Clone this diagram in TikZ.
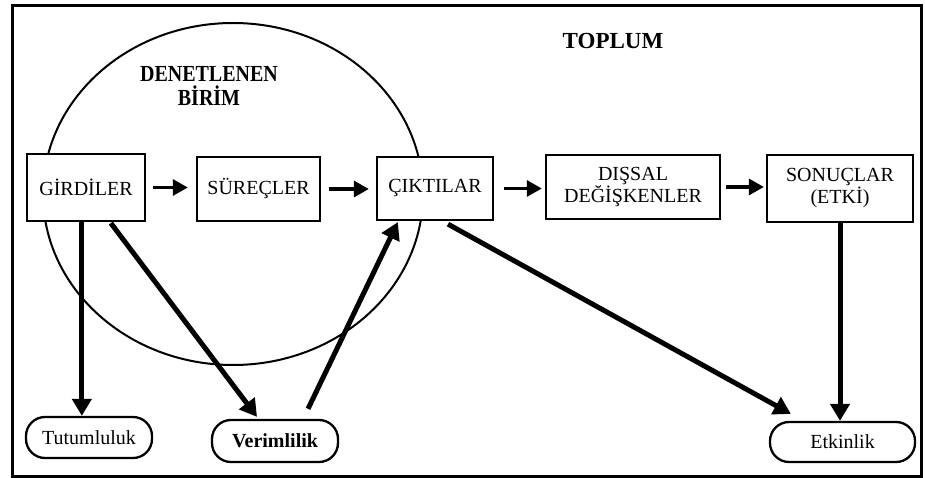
\documentclass[tikz,border=0pt]{standalone}
\usepackage{fontspec}
\setmainfont{Liberation Serif}
\usetikzlibrary{arrows.meta,calc}
\begin{document}
\begin{tikzpicture}[x=1pt,y=-1pt]
\tikzset{
 box/.style={draw, line width=2.3pt, fill=white, inner sep=0pt, align=center, font=\fontsize{20}{22}\selectfont},
 pill/.style={draw, line width=2.3pt, rounded corners=19pt, fill=white, inner sep=0pt, font=\fontsize{20}{22}\selectfont},
 flow/.style={line width=3.2pt, -{Triangle[length=15pt,width=16pt]}},
 big/.style={line width=5pt, -{Triangle[length=17pt,width=19pt]}},
 title/.style={font=\bfseries\fontsize{23}{25}\selectfont},
 unitlabel/.style={font=\bfseries\fontsize{20}{23}\selectfont, align=center, inner sep=0pt},
}
\useasboundingbox (0,0) rectangle (925,478);
% frame
\draw[line width=3pt] (12,6) rectangle (921,476);
% audited unit
\draw[line width=2pt] (233,194) ellipse [x radius=190pt, y radius=171pt];
\node[title] (toplum) at (613,41) {TOPLUM};
\node[unitlabel] (birim) at (209,86) {\scalebox{1}[1.15]{DENETLENEN}\\[1pt]\scalebox{1}[1.15]{BİRİM}};
% boxes
\node[box, minimum width=118pt, minimum height=67pt] (gir) at (86,187.5) {GİRDİLER};
\node[box, minimum width=123pt, minimum height=64pt] (sur) at (258.5,189) {SÜREÇLER};
\node[box, minimum width=116pt, minimum height=63pt] (cik) at (435,188.5) {ÇIKTILAR};
\node[box, minimum width=174pt, minimum height=64pt] (dis) at (633,187) {DIŞSAL\\DEĞİŞKENLER};
\node[box, minimum width=146pt, minimum height=67pt] (son) at (840,188.5) {SONUÇLAR\\(ETKİ)};
% results
\node[pill, minimum width=126pt, minimum height=41pt] (tut) at (89,437.5) {Tutumluluk};
\node[pill, minimum width=126pt, minimum height=42pt, font=\bfseries\fontsize{20}{22}\selectfont] (ver) at (275,441) {Verimlilik};
\node[pill, minimum width=145pt, minimum height=40pt] (etk) at (842.5,442) {Etkinlik};
% horizontal flow
\draw[flow, shorten <=7pt, shorten >=8pt] (gir.east) -- (gir.east -| sur.west);
\draw[flow, shorten <=8pt, shorten >=7pt] (sur.east) -- (sur.east -| cik.west);
\draw[flow, shorten <=10pt, shorten >=3pt] (cik.east) -- (cik.east -| dis.west);
\draw[flow, shorten <=5pt, shorten >=2pt] (dis.east) -- (dis.east -| son.west);
% measures
\coordinate (g1) at ($(gir.south west)+(56,0)$);
\draw[big] (g1) -- (g1 |- tut.north);
\coordinate (g2) at ($(gir.south west)+(85,1)$);
\coordinate (v1) at ($(ver.north)+(-18,-2)$);
\draw[big] (g2) -- (v1);
\coordinate (v2) at ($(ver.north)+(33,-10)$);
\coordinate (c1) at ($(cik.south west)+(22,1)$);
\draw[big] (v2) -- (c1);
\coordinate (c2) at ($(cik.south)+(13,3)$);
\coordinate (e1) at ($(etk.north west)+(22,-7)$);
\draw[big] (c2) -- (e1);
\draw[big] (son.south) -- (son.south |- etk.north);
\end{tikzpicture}
\end{document}
